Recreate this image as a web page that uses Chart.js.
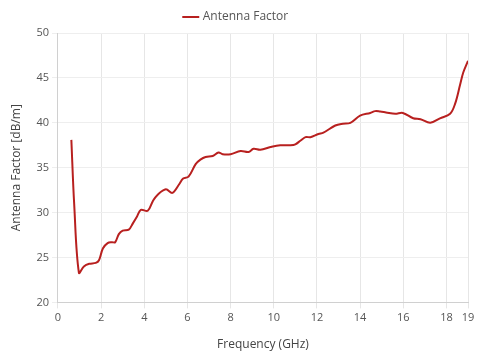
<!DOCTYPE html>
<html>
<head>
<meta charset="utf-8">
<script src="https://cdn.jsdelivr.net/npm/chart.js@4"></script>
<style>
  html, body { margin: 0; padding: 0; background: #fff; }
  #wrap { width: 485px; height: 358px; }
</style>
</head>
<body>
<div id="wrap"><canvas id="afChart"></canvas></div>
<script>
const freqGHz = [0.62, 0.75, 0.97, 1.2, 1.45, 1.75, 1.9, 2.08, 2.3, 2.5, 2.65, 2.82, 3.0, 3.28, 3.47, 3.65, 3.84, 4.16, 4.4, 4.62, 5.0, 5.3, 5.6, 5.8, 6.05, 6.38, 6.6, 6.84, 7.17, 7.44, 7.63, 8.0, 8.46, 8.83, 9.06, 9.38, 9.85, 10.3, 10.77, 11.0, 11.23, 11.47, 11.7, 12.07, 12.3, 12.85, 13.2, 13.55, 14.0, 14.47, 14.7, 14.93, 15.2, 15.63, 15.98, 16.46, 16.8, 17.25, 17.7, 18.17, 18.4, 18.63, 18.78, 19.0];
const antennaFactor = [38.1, 31.0, 23.3, 24.0, 24.3, 24.4, 24.7, 26.0, 26.6, 26.7, 26.7, 27.6, 28.0, 28.1, 28.8, 29.5, 30.3, 30.2, 31.3, 32.0, 32.6, 32.2, 33.1, 33.8, 34.0, 35.4, 35.9, 36.2, 36.3, 36.7, 36.5, 36.5, 36.85, 36.75, 37.1, 37.0, 37.3, 37.5, 37.5, 37.6, 38.0, 38.4, 38.4, 38.75, 38.9, 39.7, 39.9, 40.0, 40.8, 41.1, 41.3, 41.25, 41.15, 41.0, 41.1, 40.5, 40.4, 40.0, 40.5, 41.0, 42.1, 44.2, 45.6, 46.9];
const xTicks = [0, 2, 4, 6, 8, 10, 12, 14, 16, 18, 19];
const yTicks = [20, 25, 30, 35, 40, 45, 50];

const fontFamily = "'Open Sans', 'Noto Sans', sans-serif";
Chart.defaults.font.family = fontFamily;
Chart.defaults.color = '#555';

const ctx = document.getElementById('afChart').getContext('2d');
const afChart = new Chart(ctx, {
    type: 'line',
    data: {
        datasets: [{
            label: 'Antenna Factor',
            data: freqGHz.map((f, i) => ({ x: f, y: antennaFactor[i] })),
            borderColor: '#b8201f',
            backgroundColor: '#b8201f',
            borderWidth: 2,
            pointRadius: 0,
            fill: false,
            tension: 0.35
        }]
    },
    options: {
        responsive: true,
        maintainAspectRatio: false,
        animation: false,
        layout: { padding: { left: 5, right: 17, top: 1, bottom: 2 } },
        plugins: {
            legend: {
                labels: {
                    usePointStyle: true,
                    pointStyle: 'line',
                    boxWidth: 14,
                    font: { size: 12 },
                    color: '#555'
                }
            },
            tooltip: { enabled: false }
        },
        scales: {
            x: {
                type: 'linear',
                min: 0,
                max: 19,
                afterBuildTicks: (axis) => { axis.ticks = xTicks.map(v => ({ value: v })); },
                ticks: { autoSkip: false, maxRotation: 0, font: { size: 11 }, color: '#555' },
                grid: { color: '#e6e6e6', tickLength: 6 },
                border: { color: '#d0d0d0' },
                title: { display: true, text: 'Frequency (GHz)', font: { size: 12 }, color: '#444', padding: { top: 10 } }
            },
            y: {
                min: 20,
                max: 50,
                afterBuildTicks: (axis) => { axis.ticks = yTicks.map(v => ({ value: v })); },
                ticks: { font: { size: 11 }, color: '#555' },
                grid: { color: '#eeeeee', tickLength: 6 },
                border: { color: '#d0d0d0' },
                title: { display: true, text: 'Antenna Factor [dB/m]', font: { size: 12 }, color: '#444', padding: { bottom: 10 } }
            }
        }
    }
});
</script>
</body>
</html>
